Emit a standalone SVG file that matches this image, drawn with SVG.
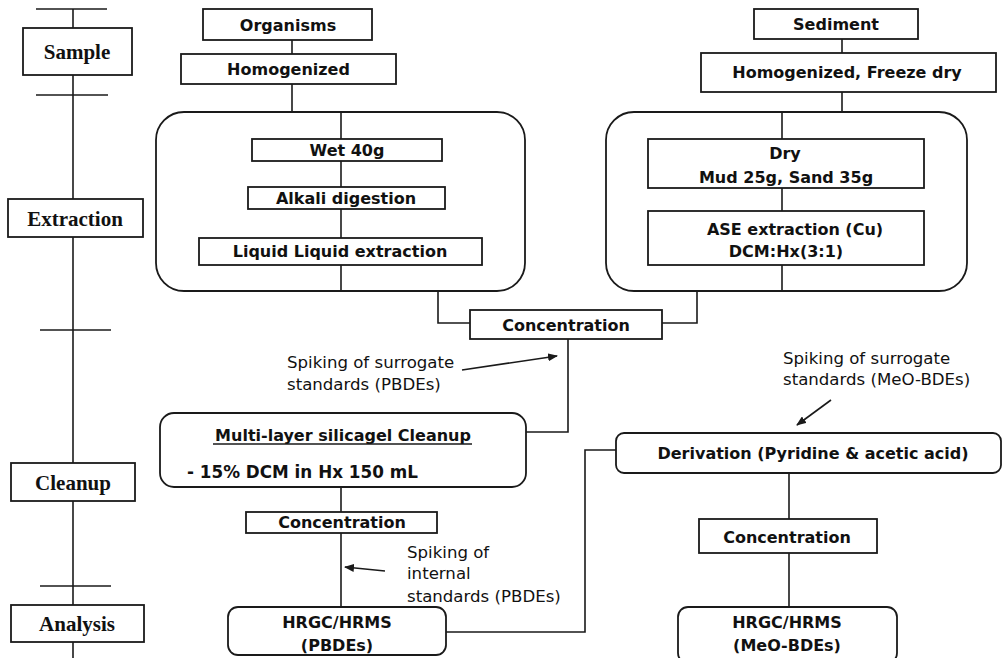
<svg xmlns="http://www.w3.org/2000/svg" width="1004" height="658" viewBox="0 0 1004 658">
<defs>
<marker id="ah" markerWidth="10" markerHeight="8" refX="9" refY="4" orient="auto" markerUnits="userSpaceOnUse">
<path d="M0,0 L10,4 L0,8 Z" fill="#1a1a1a"/>
</marker>
</defs>
<style>
.box{fill:#fff;stroke:#1a1a1a;stroke-width:1.8}
.ln{fill:none;stroke:#1a1a1a;stroke-width:1.6}
.t{font-family:"DejaVu Sans",sans-serif;font-weight:bold;font-size:16px;fill:#111;text-anchor:middle;dominant-baseline:central}
.lb{font-family:"DejaVu Sans",sans-serif;font-size:16.6px;fill:#111;dominant-baseline:central}
.st{font-family:"Liberation Serif","Times New Roman",serif;font-weight:bold;font-size:21px;fill:#111;text-anchor:middle;dominant-baseline:central}
</style>
<rect width="1004" height="658" fill="#fff"/>

<g id="timeline">
<line class="ln" x1="73" y1="9" x2="73" y2="658"/>
<line class="ln" x1="36" y1="9" x2="107" y2="9"/>
<line class="ln" x1="36" y1="95" x2="108" y2="95"/>
<line class="ln" x1="40" y1="330" x2="111" y2="330"/>
<line class="ln" x1="40" y1="586" x2="111" y2="586"/>
</g>
<g id="stage-sample"><rect class="box" x="23" y="28" width="109" height="47"/><text class="st" x="77" y="52">Sample</text></g>
<g id="stage-extraction"><rect class="box" x="8" y="199" width="135" height="38"/><text class="st" x="75" y="219">Extraction</text></g>
<g id="stage-cleanup"><rect class="box" x="11" y="463" width="124" height="38"/><text class="st" x="73" y="483">Cleanup</text></g>
<g id="stage-analysis"><rect class="box" x="11" y="605" width="133" height="37"/><text class="st" x="77" y="624">Analysis</text></g>

<g id="connectors">
<line class="ln" x1="292" y1="40" x2="292" y2="54"/>
<line class="ln" x1="292" y1="84" x2="292" y2="112"/>
<line class="ln" x1="341" y1="112" x2="341" y2="291"/>
<line class="ln" x1="842" y1="39" x2="842" y2="53"/>
<line class="ln" x1="842" y1="92" x2="842" y2="112"/>
<line class="ln" x1="782" y1="112" x2="782" y2="291"/>
<polyline class="ln" points="438,291 438,323 470,323"/>
<polyline class="ln" points="697,291 697,323 662,323"/>
<polyline class="ln" points="568,339 568,432 526,432"/>
<line class="ln" x1="341" y1="487" x2="341" y2="607"/>
<polyline class="ln" points="446,632 585,632 585,450 616,450"/>
<line class="ln" x1="789" y1="473" x2="789" y2="607"/>
<line class="ln" x1="462" y1="370" x2="557" y2="356" marker-end="url(#ah)"/>
<line class="ln" x1="385" y1="571" x2="345" y2="567" marker-end="url(#ah)"/>
<line class="ln" x1="831" y1="400" x2="797" y2="425" marker-end="url(#ah)"/>
</g>

<g id="organisms"><rect class="box" x="203" y="9" width="169" height="31"/><text class="t" x="288" y="25">Organisms</text></g>
<g id="homogenized"><rect class="box" x="181" y="54" width="215" height="30"/><text class="t" x="288.5" y="69">Homogenized</text></g>
<g id="sediment"><rect class="box" x="754" y="9" width="164" height="30"/><text class="t" x="836" y="24">Sediment</text></g>
<g id="homogenized-freeze"><rect class="box" x="701" y="53" width="295" height="39"/><text class="t" x="847" y="72">Homogenized, Freeze dry</text></g>

<g id="extraction-organisms">
<rect class="box" x="156" y="112" width="369" height="179" rx="28" ry="28" style="fill:none"/>
<g id="wet"><rect class="box" x="252" y="139" width="190" height="22"/><text class="t" x="347" y="150">Wet 40g</text></g>
<g id="alkali"><rect class="box" x="248" y="187" width="197" height="22"/><text class="t" x="346" y="198">Alkali digestion</text></g>
<g id="lle"><rect class="box" x="199" y="238" width="283" height="27"/><text class="t" x="340" y="251">Liquid Liquid extraction</text></g>
</g>

<g id="extraction-sediment">
<rect class="box" x="606" y="112" width="361" height="179" rx="28" ry="28" style="fill:none"/>
<g id="dry"><rect class="box" x="648" y="139" width="276" height="49"/><text class="t" x="785" y="153">Dry</text><text class="t" x="786" y="177">Mud 25g, Sand 35g</text></g>
<g id="ase"><rect class="box" x="648" y="211" width="276" height="54"/><text class="t" x="795" y="229">ASE extraction (Cu)</text><text class="t" x="786" y="251">DCM:Hx(3:1)</text></g>
</g>

<g id="concentration-1"><rect class="box" x="470" y="310" width="192" height="29"/><text class="t" x="566" y="325">Concentration</text></g>

<g id="label-surrogate-pbde"><text class="lb" x="287" y="362">Spiking of surrogate</text><text class="lb" x="287" y="384">standards (PBDEs)</text></g>

<g id="multilayer">
<rect class="box" x="160" y="413" width="366" height="74" rx="14" ry="14"/>
<text class="t" x="343" y="435">Multi-layer silicagel Cleanup</text>
<line class="ln" x1="213" y1="444" x2="472" y2="444"/>
<text class="t" x="187" y="472" style="text-anchor:start;font-size:16.8px">- 15% DCM in Hx 150 mL</text>
</g>

<g id="concentration-2"><rect class="box" x="246" y="512" width="191" height="21"/><text class="t" x="342" y="522">Concentration</text></g>

<g id="label-internal"><text class="lb" x="407" y="552">Spiking of</text><text class="lb" x="407" y="573">internal</text><text class="lb" x="407" y="596">standards (PBDEs)</text></g>

<g id="hrgc-pbde"><rect class="box" x="228" y="607" width="218" height="48" rx="10" ry="10"/><text class="t" x="337" y="622">HRGC/HRMS</text><text class="t" x="337" y="645">(PBDEs)</text></g>

<g id="label-surrogate-meo"><text class="lb" x="783" y="358">Spiking of surrogate</text><text class="lb" x="783" y="379">standards (MeO-BDEs)</text></g>

<g id="derivation"><rect class="box" x="616" y="433" width="385" height="40" rx="8" ry="8"/><text class="t" x="813" y="453">Derivation (Pyridine &amp; acetic acid)</text></g>

<g id="concentration-3"><rect class="box" x="699" y="519" width="178" height="34"/><text class="t" x="787" y="537">Concentration</text></g>

<g id="hrgc-meo"><rect class="box" x="678" y="607" width="219" height="56" rx="10" ry="10"/><text class="t" x="787" y="622">HRGC/HRMS</text><text class="t" x="787" y="645">(MeO-BDEs)</text></g>
</svg>
